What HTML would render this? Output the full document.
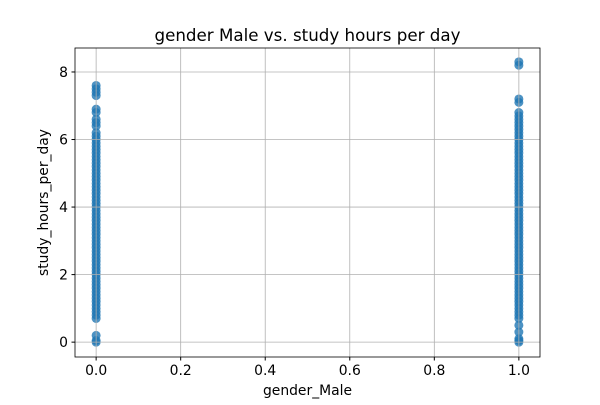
<!DOCTYPE html>
<html><head><meta charset="utf-8"><style>body{margin:0;background:#fff}svg{font-family:"DejaVu Sans","Liberation Sans",sans-serif}</style></head>
<body>
<svg id="c" width="600" height="400" xmlns="http://www.w3.org/2000/svg"></svg>
<script>
const xTicks=[0.0,0.2,0.4,0.6,0.8,1.0];
const xTickLabels=["0.0","0.2","0.4","0.6","0.8","1.0"];
const yTicks=[0,2,4,6,8];
const yTickLabels=["0","2","4","6","8"];
const hoursMale0=[0,0.05,0.2,0.7,0.8,0.9,1.0,1.1,1.2,1.3,1.4,1.5,1.6,1.7,1.8,1.9,2.0,2.1,2.2,2.3,2.4,2.5,2.6,2.7,2.8,2.9,3.0,3.1,3.2,3.3,3.4,3.5,3.6,3.7,3.8,3.9,4.0,4.1,4.2,4.3,4.4,4.5,4.6,4.7,4.8,4.9,5.0,5.1,5.2,5.3,5.4,5.5,5.6,5.7,5.8,5.9,6.0,6.1,6.2,6.4,6.5,6.6,6.8,6.9,7.3,7.4,7.5,7.6];
const hoursMale1=[0,0.05,0.1,0.3,0.5,0.7,0.8,0.9,1.0,1.1,1.2,1.3,1.4,1.5,1.6,1.7,1.8,1.9,2.0,2.1,2.2,2.3,2.4,2.5,2.6,2.7,2.8,2.9,3.0,3.1,3.2,3.3,3.4,3.5,3.6,3.7,3.8,3.9,4.0,4.1,4.2,4.3,4.4,4.5,4.6,4.7,4.8,4.9,5.0,5.1,5.2,5.3,5.4,5.5,5.6,5.7,5.8,5.9,6.0,6.1,6.2,6.3,6.4,6.5,6.6,6.7,6.8,7.1,7.2,8.2,8.3];
const L=75,R=540,T=48,B=357,xmin=-0.05,xmax=1.05,ymin=-0.44,ymax=8.71;
const sx=v=>L+(v-xmin)/(xmax-xmin)*(R-L);
const sy=v=>B-(v-ymin)/(ymax-ymin)*(B-T);
const svg=document.getElementById('c');const NS='http://www.w3.org/2000/svg';
function mk(tag,attrs,parent){const e=document.createElementNS(NS,tag);for(const k in attrs)e.setAttribute(k,attrs[k]);(parent||svg).appendChild(e);return e;}
const pts=mk('g',{});


[[0,hoursMale0],[1,hoursMale1]].forEach(([g,arr])=>arr.forEach(v=>{
 const c=mk('circle',{cx:sx(g),cy:sy(v),r:4.5,fill:'#1f77b4','fill-opacity':0.8},pts);
 
 
}));
const grid=mk('g',{stroke:'#b0b0b0','stroke-width':0.8});


xTicks.forEach((v,i)=>{
 mk('line',{x1:sx(v),x2:sx(v),y1:T,y2:B},grid);
 mk('line',{x1:sx(v),x2:sx(v),y1:B,y2:B+3.5,stroke:'#000'});
 const t=mk('text',{x:sx(v),y:B+18,'font-size':13.9,'text-anchor':'middle'});t.textContent=xTickLabels[i];
 
 
});
yTicks.forEach((v,i)=>{
 mk('line',{x1:L,x2:R,y1:sy(v),y2:sy(v)},grid);
 mk('line',{x1:L-3.5,x2:L,y1:sy(v),y2:sy(v),stroke:'#000'});
 const t=mk('text',{x:L-7,y:sy(v)+5,'font-size':13.9,'text-anchor':'end'});t.textContent=yTickLabels[i];
 
 
});
const fr=mk('rect',{x:L,y:T,width:R-L,height:B-T,fill:'none',stroke:'#000','stroke-width':0.8});


const ti=mk('text',{x:(L+R)/2,y:41,'font-size':16.7,'text-anchor':'middle'});ti.textContent='gender Male vs. study hours per day';


const xl=mk('text',{x:(L+R)/2,y:395,'font-size':13.9,'text-anchor':'middle'});xl.textContent='gender_Male';


const yl=mk('text',{x:48,y:(T+B)/2,'font-size':13.9,'text-anchor':'middle',transform:'rotate(-90 48 '+((T+B)/2)+')'});yl.textContent='study_hours_per_day';


</script>
</body></html>
